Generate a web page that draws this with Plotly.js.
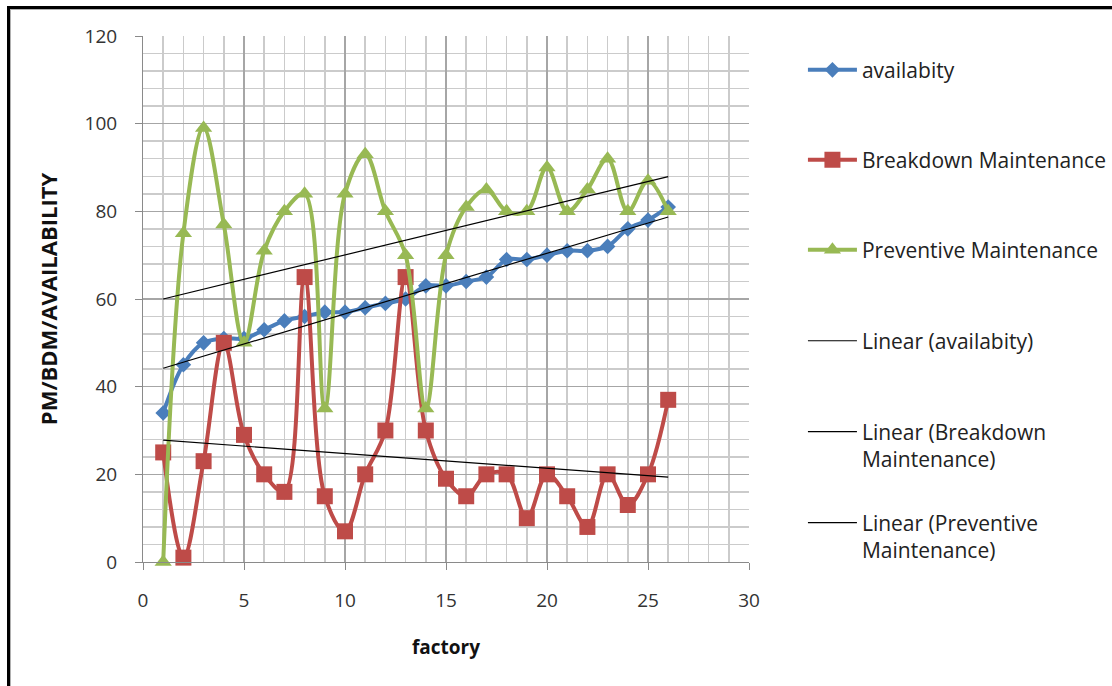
<!DOCTYPE html>
<html>
<head>
<meta charset="utf-8">
<script src="https://cdn.plot.ly/plotly-3.0.1.min.js"></script>
<style>
  html, body { margin: 0; padding: 0; background: #fff; }
  #wrap { position: relative; width: 1112px; height: 686px; overflow: hidden; }
  #chart { position: absolute; left: 0; top: 0; width: 1112px; height: 686px; }
  #frame {
    position: absolute; left: 7px; top: 6px; width: 1200px; height: 800px;
    border-top: 3px solid #000; border-left: 3px solid #000;
    box-shadow: inset 1px 1px 0 #b0b0b0;
    pointer-events: none;
  }
</style>
</head>
<body>
<div id="wrap">
  <div id="chart"></div>
  <div id="frame"></div>
</div>
<script>
// factory number 1..26
const factory = [1,2,3,4,5,6,7,8,9,10,11,12,13,14,15,16,17,18,19,20,21,22,23,24,25,26];

// availability per factory
const availability = [34,45,50,51,51,53,55,56,57,57,58,59,60,63,63,64,65,69,69,70,71,71,72,76,78,81];

// breakdown maintenance per factory
const breakdown = [25,1,23,50,29,20,16,65,15,7,20,30,65,30,19,15,20,20,10,20,15,8,20,13,20,37];

// preventive maintenance per factory
const preventive = [0,75,99,77,50,71,80,84,35,84,93,80,70,35,70,81,85,80,80,90,80,85,92,80,87,80];

const seriesNames = ['availabity', 'Breakdown Maintenance', 'Preventive Maintenance'];
const trendNames = ['Linear (availabity)', 'Linear (Breakdown<br>Maintenance)', 'Linear (Preventive<br>Maintenance)'];

const xTicks = [0,5,10,15,20,25,30];
const yTicks = [0,20,40,60,80,100,120];

// least-squares straight line through (xs, ys), evaluated at the first and last x
function linearFit(xs, ys) {
  const n = xs.length;
  let sx = 0, sy = 0, sxx = 0, sxy = 0;
  for (let i = 0; i < n; i++) {
    sx += xs[i]; sy += ys[i]; sxx += xs[i] * xs[i]; sxy += xs[i] * ys[i];
  }
  const slope = (n * sxy - sx * sy) / (n * sxx - sx * sx);
  const icpt = (sy - slope * sx) / n;
  const ends = [xs[0], xs[n - 1]];
  return { x: ends, y: ends.map(v => icpt + slope * v) };
}

const FONT = '"Open Sans", Lato, "Liberation Sans", sans-serif';
const colors = ['#4a7ebb', '#be4b48', '#98b954'];
const symbols = ['diamond', 'square', 'triangle-up'];
const sizes = [12, 16, 15];
const values = [availability, breakdown, preventive];

const traces = [];
values.forEach((ys, i) => {
  traces.push({
    type: 'scatter', mode: 'lines+markers',
    x: factory, y: ys, name: seriesNames[i],
    legend: i === 0 ? 'legend' : 'legend' + (i + 1),
    line: { color: colors[i], width: 4, shape: 'spline', smoothing: 1 },
    marker: { color: colors[i], symbol: symbols[i], size: sizes[i] },
    cliponaxis: false
  });
});
values.forEach((ys, i) => {
  const fit = linearFit(factory, ys);
  traces.push({
    type: 'scatter', mode: 'lines',
    x: fit.x, y: fit.y, name: trendNames[i],
    legend: 'legend' + (i + 4),
    line: { color: '#000', width: 1.2 },
    cliponaxis: false
  });
});

// plot area spans pixels 143..749 horizontally and 36..562 vertically
const legendX = 1.089;
const legendY = [0.935, 0.764, 0.593, 0.420, 0.286, 0.113];
function legendBox(y, twoLines) {
  return {
    x: legendX, xanchor: 'left', y: y, yanchor: twoLines ? 'top' : 'middle',
    valign: 'top',
    bgcolor: 'rgba(0,0,0,0)', borderwidth: 0,
    font: { family: FONT, size: 21, color: '#222' },
    itemwidth: 49
  };
}

const layout = {
  width: 1112, height: 686,
  margin: { l: 143, r: 363, t: 36, b: 124, autoexpand: false },
  paper_bgcolor: '#fff', plot_bgcolor: '#fff',
  showlegend: true,
  xaxis: {
    range: [0, 30], tickvals: xTicks, ticktext: xTicks.map(String),
    ticks: 'outside', ticklen: 7, tickcolor: '#8a8a8a', tickwidth: 1,
    showline: true, linecolor: '#8a8a8a', linewidth: 1,
    showgrid: true, gridcolor: '#a6a6a6', gridwidth: 1.3,
    minor: { dtick: 1, showgrid: true, gridcolor: '#cbcbcb', gridwidth: 1.5 },
    zeroline: false, ticklabelstandoff: 14,
    tickfont: { family: FONT, size: 19, color: '#333' },
    title: { text: '<b>factory</b>', font: { family: FONT, size: 19, color: '#111' }, standoff: 28 }
  },
  yaxis: {
    range: [0, 120], tickvals: yTicks, ticktext: yTicks.map(String),
    ticks: 'outside', ticklen: 7, tickcolor: '#8a8a8a', tickwidth: 1,
    showline: true, linecolor: '#8a8a8a', linewidth: 1,
    showgrid: true, gridcolor: '#a6a6a6', gridwidth: 1.3,
    minor: { dtick: 4, showgrid: true, gridcolor: '#cbcbcb', gridwidth: 1.5 },
    zeroline: false, ticklabelstandoff: 14,
    tickfont: { family: FONT, size: 19, color: '#333' },
    title: { text: '<b>PM/BDM/AVAILABILITY</b>', font: { family: FONT, size: 22, color: '#111' }, standoff: 20 }
  },
  legend: legendBox(legendY[0], false),
  legend2: legendBox(legendY[1], false),
  legend3: legendBox(legendY[2], false),
  legend4: legendBox(legendY[3], false),
  legend5: legendBox(legendY[4], true),
  legend6: legendBox(legendY[5], true)
};

Plotly.newPlot('chart', traces, layout, { staticPlot: true, displayModeBar: false });
</script>
</body>
</html>
